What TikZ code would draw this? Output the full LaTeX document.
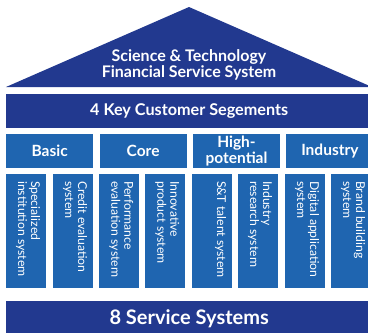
\documentclass[tikz,border=0pt]{standalone}
\usepackage{fontspec}
\setmainfont{Lato}
\usetikzlibrary{positioning}
\definecolor{navy}{HTML}{22398F}
\definecolor{midblue}{HTML}{1F65B0}

\begin{document}
\begin{tikzpicture}[x=1pt, y=-1pt,
    band/.style={fill=navy, text=white, inner sep=0pt, anchor=north west},
    segbox/.style={fill=midblue, text=white, inner sep=0pt, anchor=north west,
      minimum width=87pt, minimum height=34pt, align=center,
      font=\fontsize{15.5}{16}\selectfont\bfseries},
    pillar/.style={fill=midblue, inner sep=0pt, anchor=north west,
      minimum width=40pt, minimum height=114pt},
    pillartext/.style={text=white, rotate=-90, anchor=north west, align=left,
      inner sep=0pt, font=\fontsize{12.2}{13}\selectfont}]
  \useasboundingbox (0,0) rectangle (368,333);
  \begin{scope}
    \clip (0,0) rectangle (368,333);
    % roof
    \fill[navy] (6,87) -- (189,7) -- (372,87) -- cycle;
    \node[text=white, align=center, font=\fontsize{16}{16}\selectfont\bfseries]
      (title) at (189,65) {Science \& Technology\\Financial Service System};

    % customer segments
    \node[band, minimum width=366pt, minimum height=34pt,
          font=\fontsize{16.2}{16}\selectfont\bfseries]
      (segments) at (6,94) {4 Key Customer Segements};
    \node[segbox] (basic) at (6,134) {Basic};
    \node[segbox, right=6pt of basic] (core) {Core};
    \node[segbox, right=6pt of core] (highpot) {High-\\potential};
    \node[segbox, right=6pt of highpot] (industry) {Industry};

    % pillars
    \foreach \i/\x in {1/6, 2/53, 3/99, 4/145, 5/192, 6/238, 7/285, 8/331}
      \node[pillar] (p\i) at (\x,174) {};
    \foreach \i/\txt in {1/{Specialized\\institution system},
                         2/{Credit evaluation\\system},
                         3/{Performance\\evaluation system},
                         4/{Innovative\\product system},
                         5/{S\&T talent system},
                         6/{Industry\\research system},
                         7/{Digital application\\system},
                         8/{Brand building\\system}}
      \node[pillartext] (lbl\i) at ([shift={(-6,7)}]p\i.north east) {\txt};

    % base
    \node[band, minimum width=366pt, minimum height=36pt,
          font=\fontsize{20}{20}\selectfont\bfseries]
      (services) at (6,301) {8 Service Systems};
  \end{scope}
\end{tikzpicture}
\end{document}
